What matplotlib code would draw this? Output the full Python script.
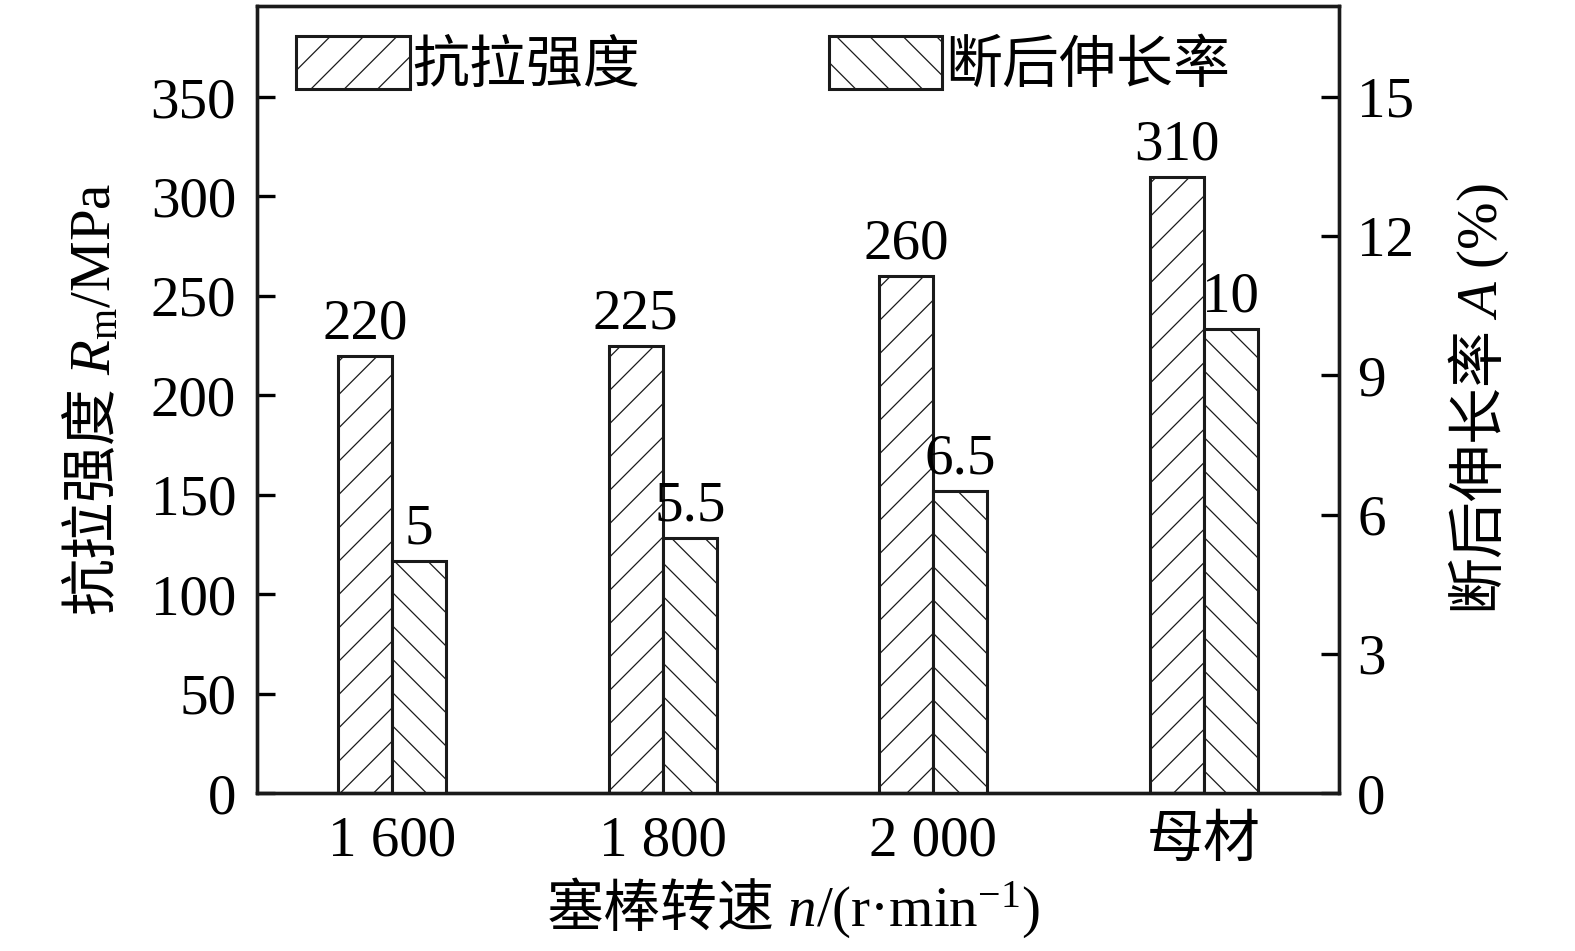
import numpy as np
import matplotlib
matplotlib.use('Agg')
import matplotlib.pyplot as plt

plt.rcParams['font.family'] = ['Liberation Serif', 'Noto Sans CJK SC']
plt.rcParams['font.weight'] = 'light'
plt.rcParams['mathtext.fontset'] = 'custom'
plt.rcParams['mathtext.rm'] = 'Noto Sans CJK SC:light'
plt.rcParams['mathtext.it'] = 'Liberation Serif:italic'
plt.rcParams['mathtext.sf'] = 'Liberation Serif'
plt.rcParams['hatch.linewidth'] = 0.9

# data
groups = ['1 600', '1 800', '2 000', '母材']
strength = [220, 225, 260, 310]          # MPa
elongation = [5, 5.5, 6.5, 10]           # %
strength_lbl = ['220', '225', '260', '310']
elong_lbl = ['5', '5.5', '6.5', '10']

fs = 41
x = np.arange(len(groups))
w = 0.2
ink = '#1a1a1a'

fig = plt.figure(figsize=(15.75, 9.51), dpi=100)
ax = fig.add_axes([257/1575, 1-793/951, (1339-257)/1575, (793-6)/951])
ax2 = ax.twinx()

b1 = ax.bar(x - w/2, strength, w, color='white', edgecolor=ink,
            linewidth=2.2, hatch='/', label='抗拉强度')
b2 = ax2.bar(x + w/2, elongation, w, color='white', edgecolor=ink,
             linewidth=2.2, hatch='\\', label='断后伸长率')
ax.bar_label(b1, labels=strength_lbl, padding=4, fontsize=fs)
ax2.bar_label(b2, labels=elong_lbl, padding=4, fontsize=fs)

ax.set_xlim(-0.5, 3.5)
ax.set_ylim(0, 395.8)
ax2.set_ylim(0, 16.96)
ax.set_yticks(np.arange(0, 351, 50))
ax2.set_yticks(np.arange(0, 16, 3))
ax.set_xticks(x)
ax.set_xticklabels(groups)

ax.tick_params(axis='x', length=0, pad=16, labelsize=fs)
ax.tick_params(axis='y', direction='in', length=13, width=2.4, pad=15, labelsize=fs)
ax2.tick_params(axis='y', direction='in', length=13, width=2.4, pad=13, labelsize=fs)
for a in (ax, ax2):
    for s in a.spines.values():
        s.set_linewidth(2.4)
        s.set_color(ink)

ax.set_ylabel(r'$\mathrm{抗拉强度}\ \mathit{R}_\mathsf{m}\mathsf{/MPa}$', fontsize=fs)
ax.yaxis.set_label_coords(-0.125, 0.5)
ax2.set_ylabel(r'$\mathrm{断后伸长率}\ \mathit{A}\ \mathsf{(\%)}$', fontsize=fs,
               rotation=90)
ax2.yaxis.set_label_coords(1.099, 0.5)
ax.set_xlabel(r'$\mathrm{塞棒转速}\ \mathit{n}\mathsf{/(r·min}^{\mathsf{-1}}\mathsf{)}$',
              fontsize=fs)
ax.xaxis.set_label_coords(0.495, -0.105)

ax2.legend(handles=[b1, b2], loc='upper left', bbox_to_anchor=(0.036, 0.962),
           ncol=2, frameon=False, fontsize=fs, borderaxespad=0, borderpad=0,
           handlelength=2.0, handleheight=1.05, handletextpad=0.05,
           columnspacing=3.3)

fig.savefig('out.png', dpi=100)
